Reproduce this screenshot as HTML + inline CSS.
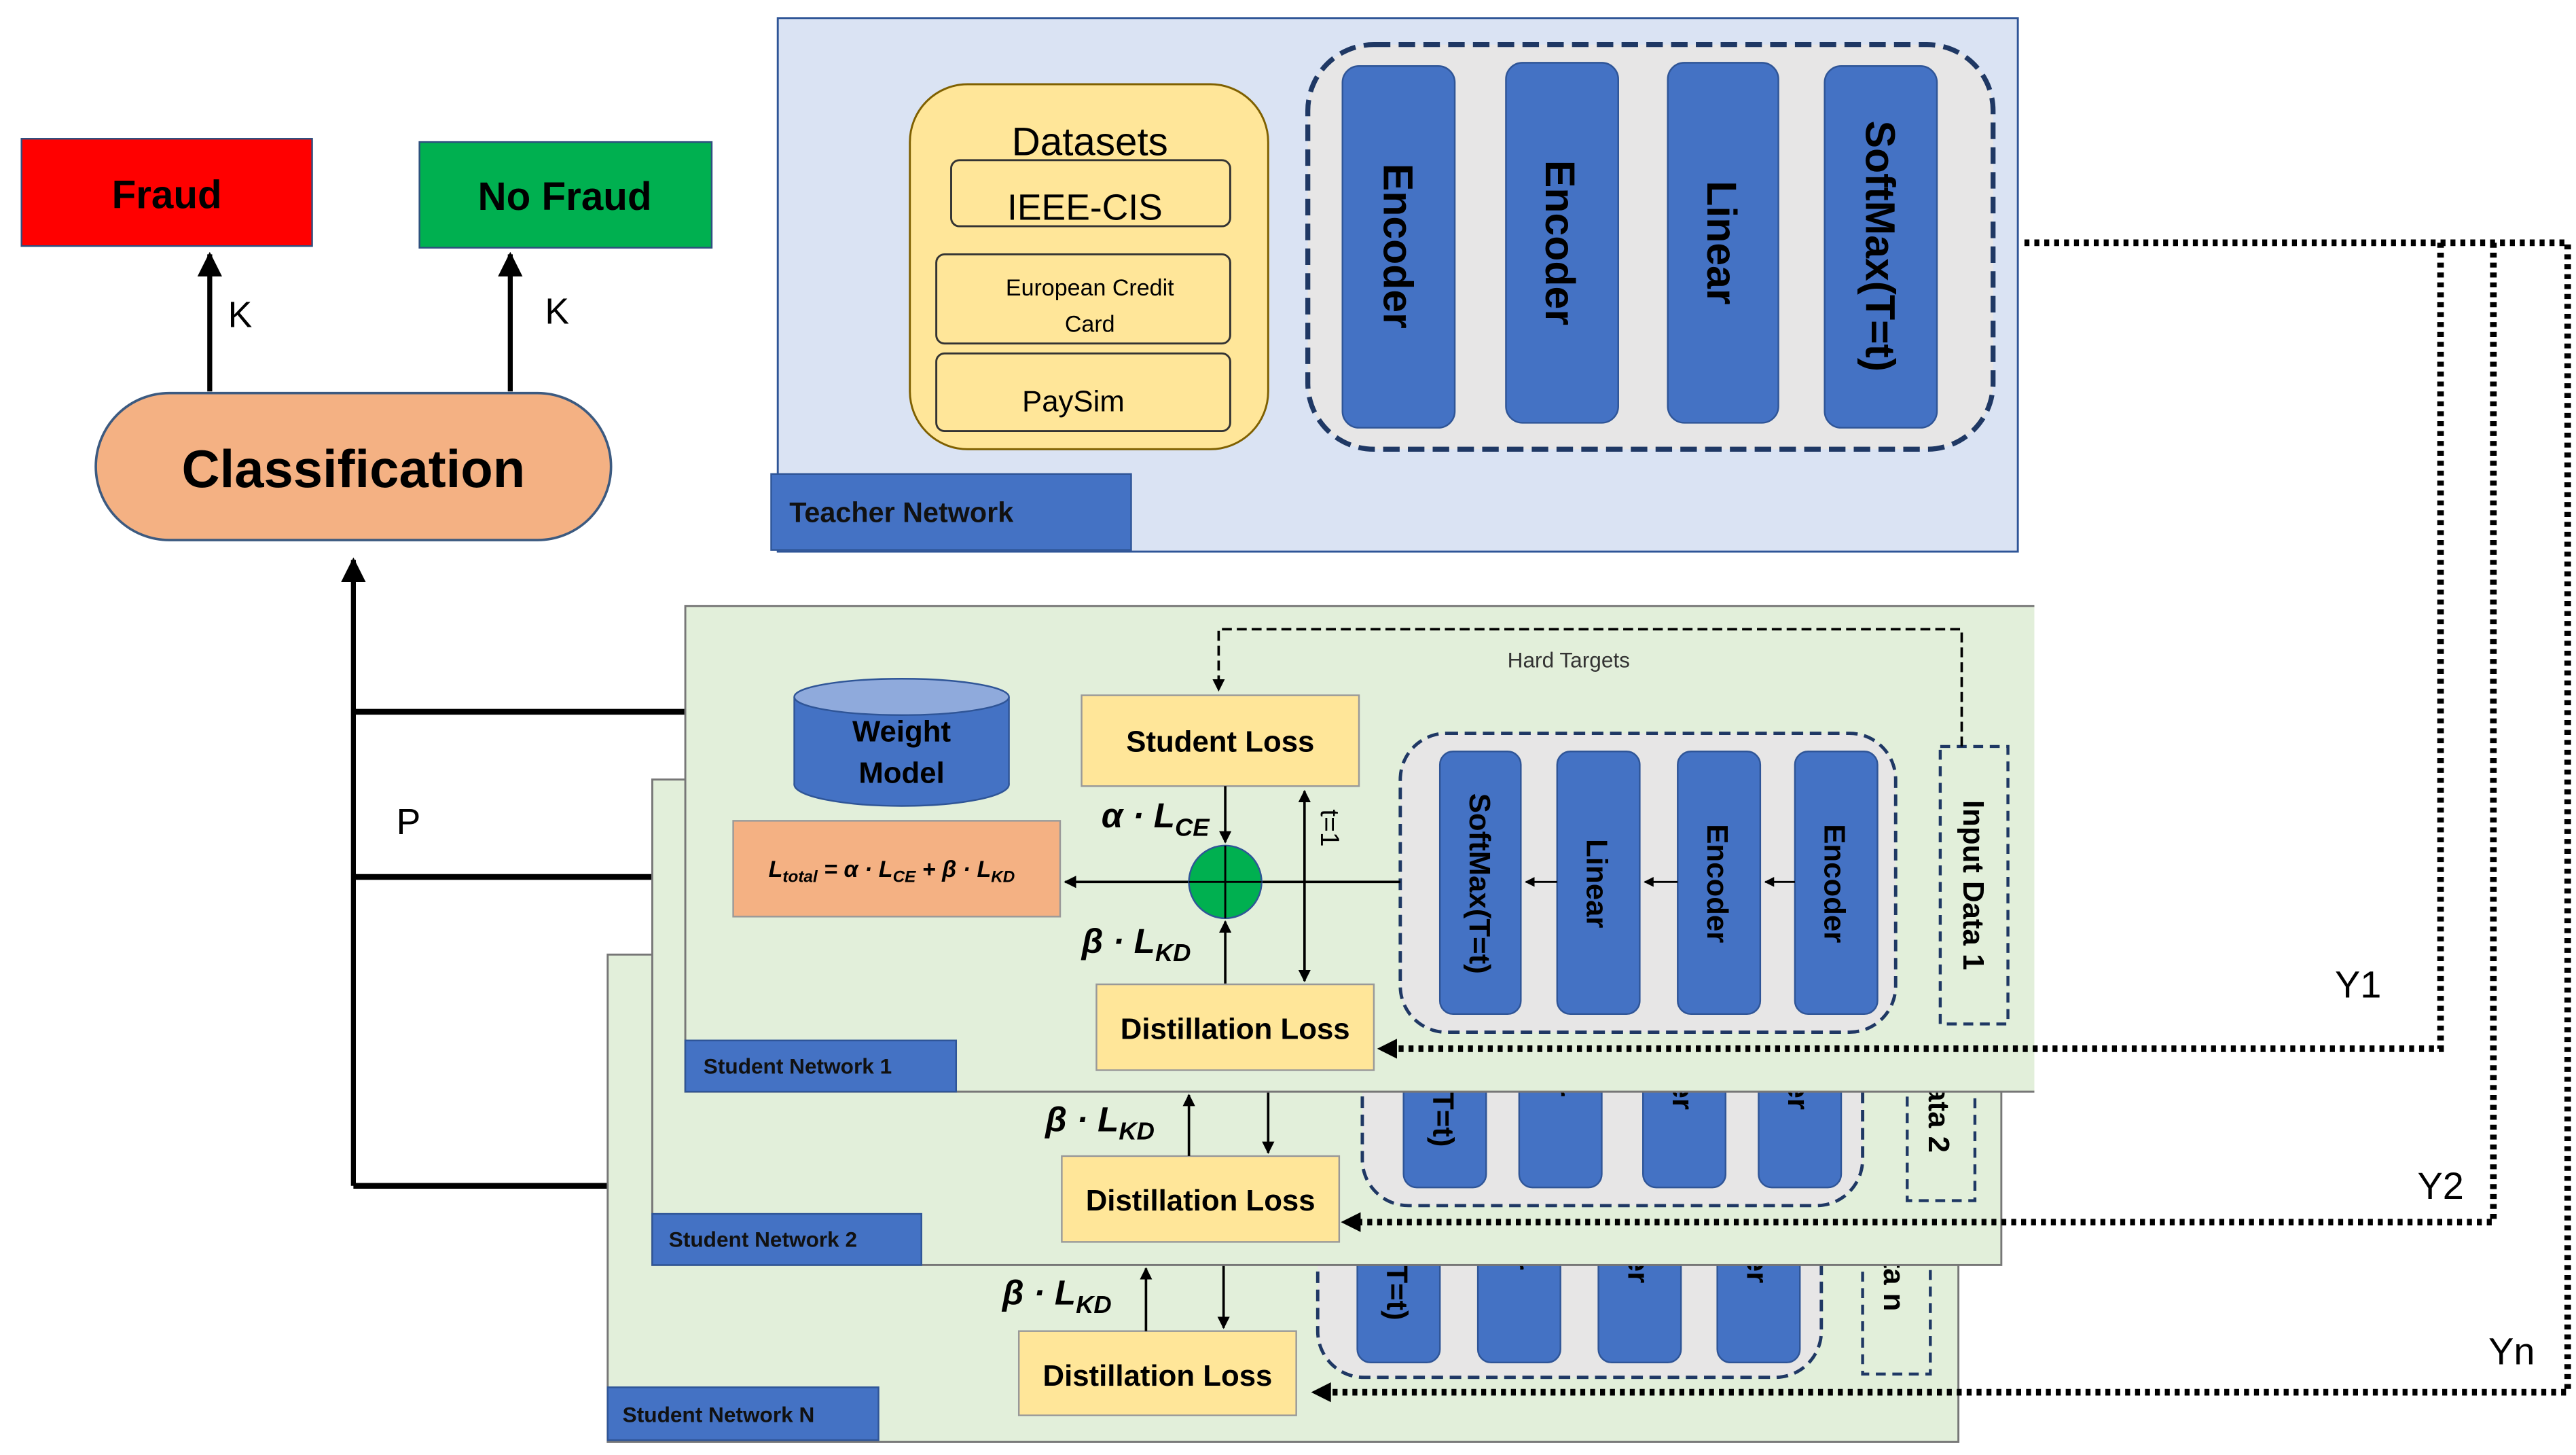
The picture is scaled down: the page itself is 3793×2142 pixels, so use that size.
<!DOCTYPE html>
<html><head><meta charset="utf-8">
<style>
html,body{margin:0;padding:0;background:#fff;}
svg{display:block;}
text{font-family:"Liberation Sans",sans-serif;}
.b{font-weight:bold;}
</style></head>
<body>
<svg width="3793" height="2142" viewBox="0 0 1560 881" xmlns="http://www.w3.org/2000/svg">
<defs>
<marker id="ah" viewBox="0 0 10 10" refX="9" refY="5" markerWidth="5" markerHeight="5" orient="auto-start-reverse"><path d="M0,0 L10,5 L0,10 z" fill="#000"/></marker>
</defs>

<rect x="13" y="84" width="176" height="65" fill="#ff0000" stroke="#2f4f7f" stroke-width="1"/>
<text x="101" y="126" font-size="24" class="b" text-anchor="middle">Fraud</text>
<rect x="254" y="86" width="177" height="64" fill="#00b050" stroke="#2f4f7f" stroke-width="1"/>
<text x="342" y="127" font-size="24" class="b" text-anchor="middle">No Fraud</text>
<line x1="127" y1="237" x2="127" y2="154" stroke="#000" stroke-width="3" marker-end="url(#ah)"/>
<line x1="309" y1="237" x2="309" y2="154" stroke="#000" stroke-width="3" marker-end="url(#ah)"/>
<text x="138" y="198" font-size="22">K</text>
<text x="330" y="196" font-size="22">K</text>
<rect x="58" y="238" width="312" height="89" rx="44.5" fill="#f4b183" stroke="#3c5a80" stroke-width="1.5"/>
<text x="214" y="295" font-size="32" class="b" text-anchor="middle">Classification</text>
<line x1="214" y1="718" x2="214" y2="339" stroke="#000" stroke-width="3" marker-end="url(#ah)"/>
<line x1="214" y1="431" x2="418" y2="431" stroke="#000" stroke-width="3.5"/>
<line x1="214" y1="531" x2="395" y2="531" stroke="#000" stroke-width="3.5"/>
<line x1="214" y1="718" x2="371" y2="718" stroke="#000" stroke-width="3.5"/>
<text x="240" y="505" font-size="22">P</text>

<rect x="471" y="11" width="751" height="323" fill="#dae3f3" stroke="#2f5597" stroke-width="1.2"/>
<rect x="467" y="287" width="218" height="46" fill="#4472c4" stroke="#2f5597"/>
<text x="478" y="316" font-size="17" class="b" fill="#111">Teacher Network</text>
<rect x="551" y="51" width="217" height="221" rx="35" fill="#ffe699" stroke="#7f6000" stroke-width="1.2"/>
<text x="660" y="94" font-size="24" text-anchor="middle">Datasets</text>
<rect x="576" y="97" width="169" height="40" rx="5" fill="#ffe699" stroke="#333" stroke-width="1.2"/>
<text x="657" y="133" font-size="22" text-anchor="middle">IEEE-CIS</text>
<rect x="567" y="154" width="178" height="54" rx="5" fill="#ffe699" stroke="#333" stroke-width="1.2"/>
<text x="660" y="179" font-size="14" text-anchor="middle">European Credit</text>
<text x="660" y="201" font-size="14" text-anchor="middle">Card</text>
<rect x="567" y="214" width="178" height="47" rx="5" fill="#ffe699" stroke="#333" stroke-width="1.2"/>
<text x="650" y="249" font-size="18" text-anchor="middle">PaySim</text>
<rect x="792" y="27" width="415" height="245" rx="40" fill="#e7e6e6" stroke="#1f3864" stroke-width="3" stroke-dasharray="10,5"/>
<g fill="#4472c4" stroke="#2f5597" stroke-width="1">
<rect x="813" y="40" width="68" height="219" rx="10"/>
<rect x="912" y="38" width="68" height="218" rx="10"/>
<rect x="1010" y="38" width="67" height="218" rx="10"/>
<rect x="1105" y="40" width="68" height="219" rx="10"/>
</g>
<g font-size="25" class="b" text-anchor="middle" fill="#000">
<text transform="translate(838,149) rotate(90)">Encoder</text>
<text transform="translate(936,147) rotate(90)">Encoder</text>
<text transform="translate(1034,147) rotate(90)">Linear</text>
<text transform="translate(1130,149) rotate(90)">SoftMax(T=t)</text>
</g>

<!-- Student N -->
<rect x="368" y="578" width="818" height="295" fill="#e2efda" stroke="#777" stroke-width="1.2"/>
<rect x="798" y="700" width="305" height="134" rx="28" fill="#e7e6e6" stroke="#1f3864" stroke-width="2" stroke-dasharray="7,4"/>
<g fill="#4472c4" stroke="#2f5597"><rect x="822" y="710" width="50" height="115" rx="8"/><rect x="895" y="710" width="50" height="115" rx="8"/><rect x="968" y="710" width="50" height="115" rx="8"/><rect x="1040" y="710" width="50" height="115" rx="8"/></g>
<g font-size="18" class="b"><text transform="translate(840,690) rotate(90)">SoftMax(T=t)</text><text transform="translate(913,715) rotate(90)">Linear</text><text transform="translate(986,705) rotate(90)">Encoder</text><text transform="translate(1058,705) rotate(90)">Encoder</text></g>
<rect x="1128" y="690" width="41" height="142" fill="none" stroke="#1f3864" stroke-width="1.8" stroke-dasharray="6,4"/>
<text transform="translate(1141,690) rotate(90)" font-size="18" class="b">Input Data n</text>
<rect x="617" y="806" width="168" height="51" fill="#ffe699" stroke="#999"/>
<text x="701" y="839" font-size="18" class="b" text-anchor="middle">Distillation Loss</text>
<line x1="694" y1="806" x2="694" y2="768" stroke="#000" stroke-width="1.5" marker-end="url(#ah)"/>
<line x1="741" y1="766" x2="741" y2="804" stroke="#000" stroke-width="1.5" marker-end="url(#ah)"/>
<text x="607" y="790" font-size="21" font-style="italic" font-family="Liberation Serif" class="b">β · L<tspan font-size="15" dy="5">KD</tspan></text>
<rect x="368" y="840" width="164" height="32" fill="#4472c4" stroke="#2f5597"/>
<text x="377" y="861" font-size="13" class="b" fill="#111">Student Network N</text>

<!-- Student 2 -->
<rect x="395" y="472" width="817" height="294" fill="#e2efda" stroke="#777" stroke-width="1.2"/>
<rect x="825" y="594" width="303" height="136" rx="28" fill="#e7e6e6" stroke="#1f3864" stroke-width="2" stroke-dasharray="7,4"/>
<g fill="#4472c4" stroke="#2f5597"><rect x="850" y="604" width="50" height="115" rx="8"/><rect x="920" y="604" width="50" height="115" rx="8"/><rect x="995" y="604" width="50" height="115" rx="8"/><rect x="1065" y="604" width="50" height="115" rx="8"/></g>
<g font-size="18" class="b"><text transform="translate(868,585) rotate(90)">SoftMax(T=t)</text><text transform="translate(938,610) rotate(90)">Linear</text><text transform="translate(1013,600) rotate(90)">Encoder</text><text transform="translate(1083,600) rotate(90)">Encoder</text></g>
<rect x="1155" y="586" width="41" height="141" fill="none" stroke="#1f3864" stroke-width="1.8" stroke-dasharray="6,4"/>
<text transform="translate(1168,595) rotate(90)" font-size="18" class="b">Input Data 2</text>
<rect x="643" y="700" width="168" height="52" fill="#ffe699" stroke="#999"/>
<text x="727" y="733" font-size="18" class="b" text-anchor="middle">Distillation Loss</text>
<line x1="720" y1="700" x2="720" y2="663" stroke="#000" stroke-width="1.5" marker-end="url(#ah)"/>
<line x1="768" y1="661" x2="768" y2="698" stroke="#000" stroke-width="1.5" marker-end="url(#ah)"/>
<text x="633" y="685" font-size="21" font-style="italic" font-family="Liberation Serif" class="b">β · L<tspan font-size="15" dy="5">KD</tspan></text>
<rect x="395" y="735" width="163" height="31" fill="#4472c4" stroke="#2f5597"/>
<text x="405" y="755" font-size="13" class="b" fill="#111">Student Network 2</text>

<!-- Student 1 -->
<path d="M1232,367 L415,367 L415,661 L1232,661" fill="#e2efda" stroke="#777" stroke-width="1.2"/>
<rect x="848" y="444" width="300" height="181" rx="28" fill="#e7e6e6" stroke="#1f3864" stroke-width="2" stroke-dasharray="7,4"/>
<g fill="#4472c4" stroke="#2f5597"><rect x="872" y="455" width="49" height="159" rx="8"/><rect x="943" y="455" width="50" height="159" rx="8"/><rect x="1016" y="455" width="50" height="159" rx="8"/><rect x="1087" y="455" width="50" height="159" rx="8"/></g>
<g font-size="18" class="b" text-anchor="middle"><text transform="translate(890,535) rotate(90)">SoftMax(T=t)</text><text transform="translate(961,535) rotate(90)">Linear</text><text transform="translate(1034,535) rotate(90)">Encoder</text><text transform="translate(1105,535) rotate(90)">Encoder</text></g>
<g stroke="#000" stroke-width="1.2"><line x1="943" y1="534" x2="924" y2="534" marker-end="url(#ah)"/><line x1="1016" y1="534" x2="996" y2="534" marker-end="url(#ah)"/><line x1="1087" y1="534" x2="1069" y2="534" marker-end="url(#ah)"/></g>
<rect x="1175" y="452" width="41" height="168" fill="none" stroke="#1f3864" stroke-width="1.8" stroke-dasharray="6,4"/>
<text transform="translate(1189,536) rotate(90)" font-size="18" class="b" text-anchor="middle">Input Data 1</text>
<path d="M1188,452 L1188,381 L738,381 L738,418" fill="none" stroke="#000" stroke-width="1.5" stroke-dasharray="6,3" marker-end="url(#ah)"/>
<text x="950" y="404" font-size="13" text-anchor="middle" fill="#333">Hard Targets</text>
<ellipse cx="546" cy="475" rx="65" ry="13" fill="#4472c4" stroke="#2f5597"/>
<rect x="481" y="422" width="130" height="53" fill="#4472c4"/>
<line x1="481" y1="422" x2="481" y2="475" stroke="#2f5597"/><line x1="611" y1="422" x2="611" y2="475" stroke="#2f5597"/>
<ellipse cx="546" cy="422" rx="65" ry="11" fill="#8faadc" stroke="#2f5597"/>
<text x="546" y="449" font-size="18" class="b" text-anchor="middle">Weight</text>
<text x="546" y="474" font-size="18" class="b" text-anchor="middle">Model</text>
<rect x="655" y="421" width="168" height="55" fill="#ffe699" stroke="#999"/>
<text x="739" y="455" font-size="18" class="b" text-anchor="middle">Student Loss</text>
<rect x="444" y="497" width="198" height="58" fill="#f4b183" stroke="#999"/>
<text x="540" y="531" font-size="14" font-style="italic" font-family="Liberation Serif" class="b" text-anchor="middle">L<tspan font-size="10" dy="3">total</tspan><tspan dy="-3"> = α · L</tspan><tspan font-size="10" dy="3">CE</tspan><tspan dy="-3"> + β · L</tspan><tspan font-size="10" dy="3">KD</tspan></text>
<line x1="742" y1="476" x2="742" y2="510" stroke="#000" stroke-width="1.5" marker-end="url(#ah)"/>
<line x1="742" y1="596" x2="742" y2="558" stroke="#000" stroke-width="1.5" marker-end="url(#ah)"/>
<line x1="720" y1="534" x2="645" y2="534" stroke="#000" stroke-width="1.5" marker-end="url(#ah)"/>
<line x1="790" y1="594" x2="790" y2="479" stroke="#000" stroke-width="1.5" marker-start="url(#ah)" marker-end="url(#ah)"/>
<line x1="764" y1="534" x2="848" y2="534" stroke="#000" stroke-width="1.5"/>
<circle cx="742" cy="534" r="22" fill="#00b050" stroke="#2f5597" stroke-width="1"/>
<line x1="720" y1="534" x2="764" y2="534" stroke="#000" stroke-width="1.2"/><line x1="742" y1="512" x2="742" y2="556" stroke="#000" stroke-width="1.2"/>
<text x="667" y="501" font-size="21" font-style="italic" font-family="Liberation Serif" class="b">α · L<tspan font-size="15" dy="5">CE</tspan></text>
<text x="655" y="577" font-size="21" font-style="italic" font-family="Liberation Serif" class="b">β · L<tspan font-size="15" dy="5">KD</tspan></text>
<text transform="translate(800,490) rotate(90)" font-size="16">t=1</text>
<rect x="664" y="596" width="168" height="52" fill="#ffe699" stroke="#999"/>
<text x="748" y="629" font-size="18" class="b" text-anchor="middle">Distillation Loss</text>
<rect x="415" y="630" width="164" height="31" fill="#4472c4" stroke="#2f5597"/>
<text x="426" y="650" font-size="13" class="b" fill="#111">Student Network 1</text>

<g fill="none" stroke="#000" stroke-width="4" stroke-dasharray="3,3">
<path d="M1226,147 L1555,147 L1555,843 L798,843"/>
<path d="M1478,147 L1478,635 L838,635"/>
<path d="M1510,147 L1510,740 L816,740"/>
</g>
<path d="M834,635 l12,-6 l0,12 z" fill="#000"/>
<path d="M812,740 l12,-6 l0,12 z" fill="#000"/>
<path d="M794,843 l12,-6 l0,12 z" fill="#000"/>
<text x="1414" y="604" font-size="23">Y1</text>
<text x="1464" y="726" font-size="23">Y2</text>
<text x="1507" y="826" font-size="23">Yn</text>
</svg>
</body></html>
